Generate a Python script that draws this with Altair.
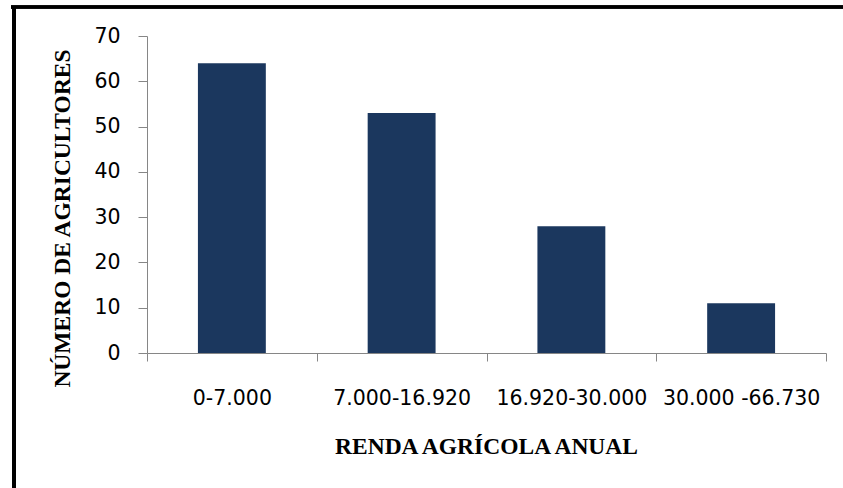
import altair as alt
import pandas as pd

# Farmers grouped by annual agricultural income band
faixas = ["0-7.000", "7.000-16.920", "16.920-30.000", "30.000 -66.730"]
agricultores = [64, 53, 28, 11]

df = pd.DataFrame({"faixa": faixas, "n": agricultores})

AXIS_GREY = "#868686"
BAR_BLUE = "#1b375e"

bars = alt.Chart(df).mark_bar(
    color=BAR_BLUE, width=alt.RelativeBandSize(0.4)
).encode(
    x=alt.X(
        "faixa:N",
        sort=faixas,
        scale=alt.Scale(paddingInner=0, paddingOuter=0),
        axis=alt.Axis(
            title="RENDA AGRÍCOLA ANUAL",
            labelAngle=0,
            labelFont="DejaVu Sans",
            labelFontSize=20.5,
            labelColor="#000000",
            labelBaseline="top",
            labelPadding=27,
            tickBand="extent",
            tickSize=8,
            tickColor=AXIS_GREY,
            domainColor=AXIS_GREY,
            titleFont="Liberation Serif",
            titleFontWeight="bold",
            titleFontSize=23.5,
            titleColor="#000000",
            titleAnchor="start",
            titleAlign="center",
            titleBaseline="alphabetic",
            titleX=339,
            titleY=100,
        ),
    ),
    y=alt.Y(
        "n:Q",
        scale=alt.Scale(domain=[0, 70], nice=False),
        axis=alt.Axis(
            title="NÚMERO DE AGRICULTORES",
            values=[0, 10, 20, 30, 40, 50, 60, 70],
            grid=False,
            labelFont="DejaVu Sans",
            labelFontSize=20.5,
            labelColor="#000000",
            labelPadding=18,
            tickSize=9,
            tickColor=AXIS_GREY,
            domainColor=AXIS_GREY,
            titleFont="Liberation Serif",
            titleFontWeight="bold",
            titleFontSize=23.5,
            titleColor="#000000",
            titleAngle=270,
            titleAlign="center",
            titleBaseline="alphabetic",
            titleX=-78,
            titleY=182,
        ),
    ),
)

# Black frame around the figure (top and left edges)
frame_top = alt.Chart(df).mark_rule(color="#000000", strokeWidth=3).encode(
    x=alt.value(-136), x2=alt.value(720), y=alt.value(-29)
)
frame_left = alt.Chart(df).mark_rule(color="#000000", strokeWidth=4).encode(
    x=alt.value(-133), y=alt.value(-30), y2=alt.value(470)
)

chart = alt.layer(bars, frame_top, frame_left).properties(
    width=679,
    height=317,
    padding={"left": 147, "top": 36, "right": 17, "bottom": 135},
    autosize=alt.AutoSizeParams(type="none"),
    background="#ffffff",
).configure_view(stroke=None)

chart.save("out.html", embed_options={"renderer": "svg", "actions": False})
